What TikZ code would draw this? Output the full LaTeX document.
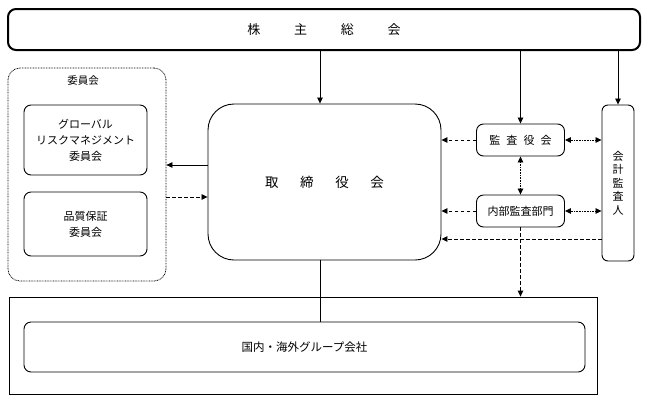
\documentclass[tikz,border=0pt]{standalone}
\usepackage{fontspec}
\setmainfont{Noto Sans CJK JP}
\usetikzlibrary{arrows.meta}
\begin{document}
\begin{tikzpicture}[x=1pt,y=-1pt,
  box/.style={draw,line width=0.9pt,rounded corners=7pt,inner sep=0pt,align=center,font=\fontsize{11}{16}\selectfont},
  tip/.style={-{Triangle[length=6pt,width=5.5pt]}},
  dtip/.style={{Triangle[length=6pt,width=5.5pt]}-{Triangle[length=6pt,width=5.5pt]}},
  dsh/.style={dash pattern=on 3.5pt off 2.5pt,line width=0.8pt},
  dot/.style={dash pattern=on 0.8pt off 0.8pt,line width=0.8pt},
  sol/.style={line width=0.8pt}]
\useasboundingbox (0,0) rectangle (648,400);
% shareholders
\node[draw,line width=2pt,rounded corners=8pt,minimum width=632pt,minimum height=41pt,font=\fontsize{13}{15}\selectfont] (gm) at (324,29.5) {株\hspace{2.6em}主\hspace{2.6em}総\hspace{2.6em}会};
% committee group
\node[draw,dot,rounded corners=12pt,minimum width=158pt,minimum height=213pt] (cg) at (87,174.5) {};
\node[font=\fontsize{10.5}{12}\selectfont] (cgl) at (83,81) {委員会};
\node[box,minimum width=123pt,minimum height=70pt] (grm) at (85.5,140) {グローバル\\リスクマネジメント\\委員会};
\node[box,minimum width=123pt,minimum height=64pt] (qa) at (85.5,224) {品質保証\\委員会};
% board
\node[draw,line width=0.9pt,rounded corners=26pt,minimum width=233pt,minimum height=156pt,font=\fontsize{13.5}{15}\selectfont] (bd) at (324.5,182) {取\hspace{1.6em}締\hspace{1.6em}役\hspace{1.6em}会};
% audit
\node[box,minimum width=88pt,minimum height=32pt] (ab) at (520.5,140) {監\hspace{0.55em}査\hspace{0.55em}役\hspace{0.55em}会};
\node[box,minimum width=88pt,minimum height=32pt] (ia) at (520.5,211) {内部監査部門};
\node[box,minimum width=32pt,minimum height=156pt,rounded corners=6pt,font=\fontsize{11}{13.5}\selectfont] (ca) at (618,183) {会\\計\\監\\査\\人};
% group companies
\node[draw,line width=0.8pt,minimum width=588pt,minimum height=97pt] (gc) at (303,345.5) {};
\node[box,minimum width=561pt,minimum height=50pt,font=\fontsize{11.5}{13}\selectfont] (gci) at (304.5,347) {国内・海外グループ会社};
% connectors
\draw[sol,tip] (gm.south -| 320,0) -- (bd.north -| 320,0);
\draw[sol,tip] (gm.south -| ab.north) -- (ab.north);
\draw[sol,tip] (gm.south -| ca.north) -- (ca.north);
\draw[sol,tip] (bd.west |- 0,165) -- (cg.east |- 0,165);
\draw[dsh,tip] (cg.east |- 0,197) -- (bd.west |- 0,197);
\draw[dsh,tip] (ab.west) -- (bd.east |- ab.west);
\draw[dsh,tip] (ia.west) -- (bd.east |- ia.west);
\draw[dsh,tip] (ca.west |- 0,239) -- (bd.east |- 0,239);
\draw[dot,dtip] (ab.east) -- (ca.west |- ab.east);
\draw[dot,dtip] (ia.east) -- (ca.west |- ia.east);
\draw[dot,dtip] (ab.south) -- (ia.north);
\draw[dsh,tip] (ia.south) -- (gc.north -| ia.south);
\draw[sol] (bd.south -| 320,0) -- (gci.north -| 320,0);
\end{tikzpicture}
\end{document}
